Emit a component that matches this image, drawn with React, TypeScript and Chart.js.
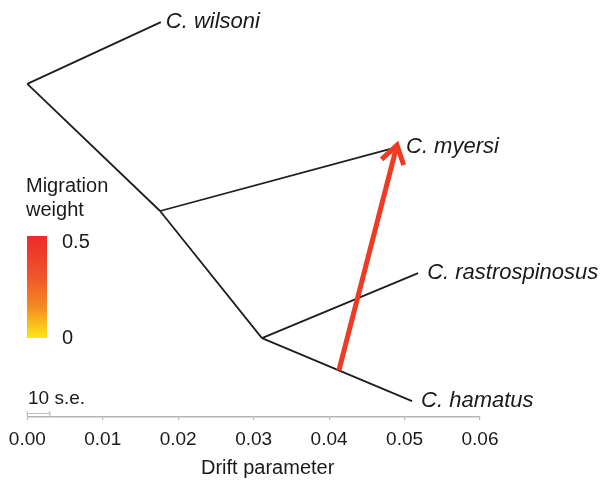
import React, { useEffect, useRef } from 'react';
import { Chart, registerables } from 'chart.js';
Chart.register(...registerables);

// ---- data ----
const taxa = ['C. wilsoni', 'C. myersi', 'C. rastrospinosus', 'C. hamatus'];
const taxaDrift = [0.0177, 0.049, 0.0518, 0.051];
const taxaPos = [9.47, 6.47, 3.45, 0.38];
const taxaParent = ['root', 'A', 'B', 'B'];

const nodes = ['root', 'A', 'B'];
const nodeDrift = [0.0, 0.0176, 0.0311];
const nodePos = [7.99, 4.94, 1.89];
const nodeParent = ['', 'root', 'A'];

const migFromDrift = 0.0413;
const migFromPos = 1.12;
const migToDrift = 0.049;
const migToPos = 6.52;

const xTickValues = [0, 0.01, 0.02, 0.03, 0.04, 0.05, 0.06];
const seValue = 0.003;
const seLabel = '10 s.e.';
const legendTitle = ['Migration', 'weight'];
const legendTickLabels = ['0.5', '0'];
const xTitle = 'Drift parameter';

const FONT = '"Liberation Sans", Arial, Helvetica, sans-serif';
const TREE_COLOR = '#1e1e1e';
const ARROW_COLOR = '#ef3a24';
const AXIS_COLOR = '#b4b4b4';

function posOf(name: string) {
  const i = nodes.indexOf(name);
  return { x: nodeDrift[i], y: nodePos[i] };
}

export default function App() {
  const ref = useRef<HTMLCanvasElement | null>(null);
  useEffect(() => {
    if (!ref.current) return;
    const edges: { x: number; y: number }[][] = [];
    nodes.forEach((n, i) => {
      if (nodeParent[i]) edges.push([posOf(nodeParent[i]), { x: nodeDrift[i], y: nodePos[i] }]);
    });
    taxa.forEach((t, i) => {
      edges.push([posOf(taxaParent[i]), { x: taxaDrift[i], y: taxaPos[i] }]);
    });

    const datasets: any[] = [
      {
        data: [
          { x: migFromDrift, y: migFromPos },
          { x: migToDrift, y: migToPos },
        ],
        borderColor: ARROW_COLOR,
        borderWidth: 5,
        pointRadius: 0,
        showLine: true,
        clip: false,
        order: 0,
        borderCapStyle: 'butt',
      },
      ...edges.map((e) => ({
        data: e,
        borderColor: TREE_COLOR,
        borderWidth: 1.8,
        pointRadius: 0,
        showLine: true,
        clip: false,
        order: 1,
      })),
    ];

    const overlay = {
      id: 'overlay',
      afterDatasetsDraw(chart: any) {
        const ctx = chart.ctx;
        const xs = chart.scales.x;
        const ys = chart.scales.y;
        ctx.save();
        // arrow head
        const sx = xs.getPixelForValue(migFromDrift);
        const sy = ys.getPixelForValue(migFromPos);
        const ex = xs.getPixelForValue(migToDrift);
        const ey = ys.getPixelForValue(migToPos);
        const len = Math.hypot(ex - sx, ey - sy);
        const ux = (ex - sx) / len;
        const uy = (ey - sy) / len;
        const L = 21;
        const th = (33 * Math.PI) / 180;
        const rot = (a: number) => ({
          x: -(ux * Math.cos(a) - uy * Math.sin(a)) * L,
          y: -(ux * Math.sin(a) + uy * Math.cos(a)) * L,
        });
        const w1 = rot(th);
        const w2 = rot(-th);
        ctx.strokeStyle = ARROW_COLOR;
        ctx.lineWidth = 5;
        ctx.lineJoin = 'miter';
        ctx.lineCap = 'butt';
        ctx.beginPath();
        ctx.moveTo(ex + w1.x, ey + w1.y);
        ctx.lineTo(ex, ey);
        ctx.lineTo(ex + w2.x, ey + w2.y);
        ctx.stroke();

        // taxa labels
        ctx.fillStyle = '#1a1a1a';
        ctx.font = `italic 22px ${FONT}`;
        ctx.textBaseline = 'middle';
        ctx.textAlign = 'left';
        taxa.forEach((t, i) => {
          const px = xs.getPixelForValue(taxaDrift[i]);
          const py = ys.getPixelForValue(taxaPos[i]);
          ctx.fillText(t, px + (i === 0 ? 5 : 9), py);
        });

        // legend
        const gx = 27, gy = 236, gw = 20, gh = 102;
        const grad = ctx.createLinearGradient(0, gy, 0, gy + gh);
        grad.addColorStop(0, '#ee2a2a');
        grad.addColorStop(0.4, '#f0552a');
        grad.addColorStop(0.7, '#f58c22');
        grad.addColorStop(1, '#fde716');
        ctx.fillStyle = grad;
        ctx.fillRect(gx, gy, gw, gh);
        ctx.fillStyle = '#1a1a1a';
        ctx.font = `20px ${FONT}`;
        ctx.fillText(legendTitle[0], 26, 186);
        ctx.fillText(legendTitle[1], 26, 210);
        ctx.fillText(legendTickLabels[0], 62, 242);
        ctx.fillText(legendTickLabels[1], 62, 338);

        // scale bar
        const b0 = xs.getPixelForValue(0);
        const b1 = xs.getPixelForValue(seValue);
        const by = chart.chartArea.bottom;
        ctx.strokeStyle = '#bdbdbd';
        ctx.lineWidth = 1.2;
        ctx.beginPath();
        ctx.moveTo(b0, by - 6);
        ctx.lineTo(b0, by);
        ctx.moveTo(b1, by - 6);
        ctx.lineTo(b1, by);
        ctx.moveTo(b0, by - 3.5);
        ctx.lineTo(b1, by - 3.5);
        ctx.stroke();
        ctx.fillStyle = '#1a1a1a';
        ctx.font = `19px ${FONT}`;
        ctx.fillText(seLabel, 28, 399);

        // axis title
        ctx.font = `20px ${FONT}`;
        ctx.textAlign = 'left';
        ctx.fillText(xTitle, 201, 468);
        ctx.restore();
      },
    };

    const chart = new Chart(ref.current, {
      type: 'scatter',
      data: { datasets },
      options: {
        animation: false,
        responsive: false,
        devicePixelRatio: 1,
        layout: { padding: { left: 27.3, right: 124, top: 0, bottom: 22.2 } },
        plugins: { legend: { display: false }, tooltip: { enabled: false } },
        events: [],
        scales: {
          x: {
            type: 'linear',
            min: 0,
            max: 0.06,
            afterFit: (s: any) => {
              s.paddingLeft = 0;
              s.paddingRight = 0;
            },
            afterBuildTicks: (s: any) => {
              s.ticks = xTickValues.map((v) => ({ value: v }));
            },
            grid: {
              drawOnChartArea: false,
              drawTicks: true,
              tickLength: 3,
              color: AXIS_COLOR,
              lineWidth: 1.2,
            },
            border: { display: true, color: AXIS_COLOR, width: 1.6 },
            ticks: {
              color: '#1a1a1a',
              padding: 8,
              maxRotation: 0,
              autoSkip: false,
              font: { size: 19, family: FONT },
              callback: (v: any) => Number(v).toFixed(2),
            },
          },
          y: { type: 'linear', min: 0, max: 10, display: false },
        },
      },
      plugins: [overlay],
    });
    return () => chart.destroy();
  }, []);

  return (
    <div style={{ position: 'absolute', left: 0, top: 0, width: 604, height: 481, background: '#fff' }}>
      <canvas ref={ref} width={604} height={481} style={{ display: 'block' }} />
    </div>
  );
}
